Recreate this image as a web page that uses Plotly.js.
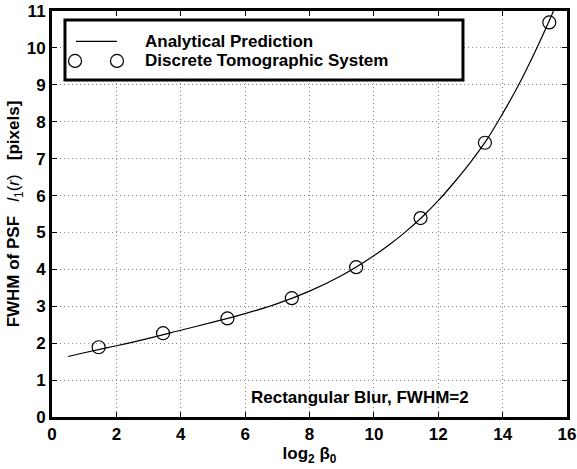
<!DOCTYPE html>
<html>
<head>
<meta charset="utf-8">
<script src="https://cdn.plot.ly/plotly-3.0.1.min.js"></script>
<style>html,body{margin:0;padding:0;background:#fff;}#chart{width:577px;height:469px;}</style>
</head>
<body>
<div id="chart"></div>
<script>
// Analytical prediction curve
var curveX = [0.5, 1, 2, 3, 4, 5, 6, 7, 8, 9, 10, 10.5, 11, 11.5, 12, 12.5, 13, 13.5, 14, 14.5, 15, 15.5, 15.58];
var curveY = [1.64, 1.74, 1.93, 2.13, 2.35, 2.57, 2.80, 3.07, 3.41, 3.835, 4.37, 4.68, 5.03, 5.42, 5.86, 6.36, 6.9, 7.5, 8.22, 9.0, 9.88, 10.84, 11.0];
// Discrete tomographic system measurements
var pointX = [1.45, 3.45, 5.45, 7.45, 9.45, 11.45, 13.45, 15.45];
var pointY = [1.89, 2.27, 2.67, 3.22, 4.06, 5.39, 7.43, 10.69];
// Axis ticks
var xTicks = [0, 2, 4, 6, 8, 10, 12, 14, 16];
var yTicks = [0, 1, 2, 3, 4, 5, 6, 7, 8, 9, 10, 11];
var seriesNames = ["Analytical Prediction", "Discrete Tomographic System"];

var FONT = "Liberation Sans, Arial, Helvetica, sans-serif";
var FS = 17;
var tickFont = {family: FONT, size: FS, color: "#000"};
function b(s) { return "<b>" + s + "</b>"; }
var GAP = "\u00a0\u00a0\u00a0";

var traces = [
  {x: curveX, y: curveY, type: "scatter", mode: "lines", name: seriesNames[0],
   line: {color: "#000", width: 1.2, shape: "spline", smoothing: 1}, showlegend: false, hoverinfo: "skip"},
  {x: pointX, y: pointY, type: "scatter", mode: "markers", name: seriesNames[1],
   marker: {symbol: "circle-open", size: 13, color: "#000", line: {width: 1.2, color: "#000"}}, showlegend: false, hoverinfo: "skip"}
];

var axisCommon = {
  showline: true, linecolor: "#000", linewidth: 3, mirror: "allticks",
  ticks: "inside", ticklen: 5, tickwidth: 1, tickcolor: "#000",
  showgrid: true, gridcolor: "#888", griddash: "1px,3px", gridwidth: 1,
  zeroline: false, tickfont: tickFont, tickmode: "array", fixedrange: true
};

var layout = {
  width: 577, height: 469,
  margin: {l: 52, r: 10, t: 11, b: 52},
  paper_bgcolor: "#fff", plot_bgcolor: "#fff",
  showlegend: false,
  xaxis: Object.assign({}, axisCommon, {
    range: [0, 16], tickvals: xTicks, ticktext: xTicks.map(function (v) { return b(String(v)); }),
    title: {text: "<b>log<sub>2</sub> β<sub>0</sub></b>", font: {family: FONT, size: FS, color: "#000"}, standoff: 1}
  }),
  yaxis: Object.assign({}, axisCommon, {
    range: [0, 11], tickvals: yTicks, ticktext: yTicks.map(function (v) { return b(String(v)); }),
    title: {text: "<b>FWHM of PSF</b>" + GAP + "<i>l</i><sub>1</sub>(<i>r</i>)" + GAP + "<b>[pixels]</b>",
            font: {family: FONT, size: FS, color: "#000"}, standoff: 3}
  }),
  shapes: [
    {type: "rect", xref: "paper", yref: "paper", x0: 0.0252, x1: 0.798, y0: 0.830, y1: 0.978,
     line: {color: "#000", width: 3}, fillcolor: "#fff", layer: "above"},
    {type: "line", xref: "paper", yref: "paper", x0: 0.0466, x1: 0.1262, y0: 0.925, y1: 0.925,
     line: {color: "#000", width: 1.2}},
    {type: "circle", xref: "paper", yref: "paper", xsizemode: "pixel", ysizemode: "pixel",
     xanchor: 0.0447, yanchor: 0.877, x0: -6.5, x1: 6.5, y0: -6.5, y1: 6.5, line: {color: "#000", width: 1.2}},
    {type: "circle", xref: "paper", yref: "paper", xsizemode: "pixel", ysizemode: "pixel",
     xanchor: 0.1262, yanchor: 0.877, x0: -6.5, x1: 6.5, y0: -6.5, y1: 6.5, line: {color: "#000", width: 1.2}}
  ],
  annotations: [
    {xref: "paper", yref: "paper", x: 0.1767, y: 0.925, xanchor: "left", yanchor: "middle", showarrow: false,
     text: b(seriesNames[0]), font: {family: FONT, size: FS, color: "#000"}},
    {xref: "paper", yref: "paper", x: 0.1767, y: 0.877, xanchor: "left", yanchor: "middle", showarrow: false,
     text: b(seriesNames[1]), font: {family: FONT, size: FS, color: "#000"}},
    {xref: "x", yref: "y", x: 9.57, y: 0.54, xanchor: "center", yanchor: "middle", showarrow: false,
     text: b("Rectangular Blur, FWHM=2"), font: {family: FONT, size: FS, color: "#000"}}
  ]
};

Plotly.newPlot("chart", traces, layout, {staticPlot: true, displayModeBar: false});
</script>
</body>
</html>
